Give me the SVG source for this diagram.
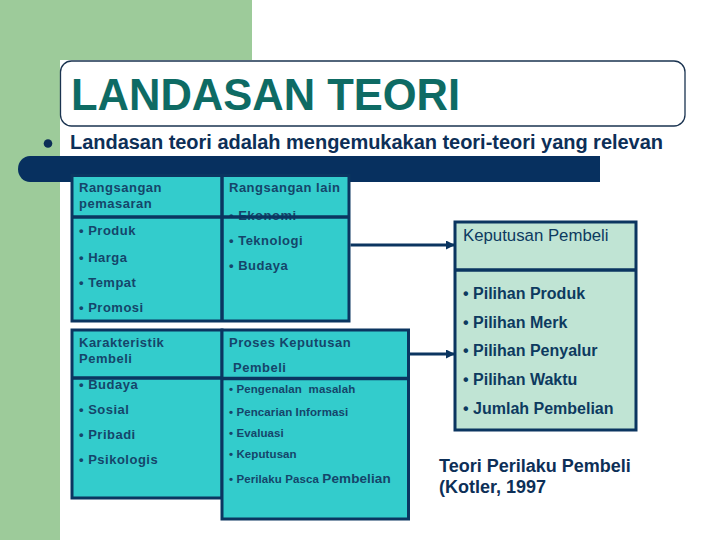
<svg xmlns="http://www.w3.org/2000/svg" width="720" height="540" viewBox="0 0 720 540">
<defs>
<style>
.bg{fill:#9dcb9a}
.box{fill:#33cccc;stroke:#0b3560;stroke-width:3}
.kbox{fill:#c0e4d4;stroke:#0b3560;stroke-width:3}
.div{stroke:#0b3560;stroke-width:3.5;fill:none}
.t{font-family:"Liberation Sans",Arial,sans-serif;font-weight:bold;font-size:13px;letter-spacing:0.5px;fill:#15456a}
.s{font-family:"Liberation Sans",Arial,sans-serif;font-weight:bold;font-size:11.5px;letter-spacing:0.1px;fill:#15456a}
.k{font-family:"Liberation Sans",Arial,sans-serif;font-weight:bold;font-size:16px;fill:#0d3a5f}
.conn{stroke:#0b3560;stroke-width:3;fill:none;marker-end:url(#ah)}
</style>
<marker id="ah" viewBox="0 0 10 10" refX="10" refY="5" markerWidth="3" markerHeight="3" orient="auto" markerUnits="strokeWidth">
<path d="M0,0 L10,5 L0,10 z" fill="#0b3560"/>
</marker>
</defs>
<rect width="720" height="540" fill="#ffffff"/>
<rect class="bg" x="0" y="0" width="252" height="60"/>
<rect class="bg" x="0" y="0" width="60" height="540"/>
<g id="title">
<rect x="60.5" y="61" width="624.5" height="65" rx="11" fill="#ffffff" stroke="#1a3350" stroke-width="1.3"/>
<text x="71" y="110" font-family="Liberation Sans,Arial,sans-serif" font-weight="bold" font-size="43.5" fill="#0e6b64">LANDASAN TEORI</text>
</g>
<g id="subtitle">
<circle cx="48" cy="143.5" r="4.3" fill="#0d2f57"/>
<text x="70" y="148.5" font-family="Liberation Sans,Arial,sans-serif" font-weight="bold" font-size="20" fill="#0d2f57" textLength="593" lengthAdjust="spacing">Landasan teori adalah mengemukakan teori-teori yang relevan</text>
</g>
<path id="bar" d="M30,156 H600 V182 H30 A12,13 0 0 1 18,169 A12,13 0 0 1 30,156 Z" fill="#07305f"/>
<g id="rangsangan">
<rect class="box" x="72" y="175.5" width="277" height="145.5"/>
<text class="t" x="79" y="192">Rangsangan</text>
<text class="t" x="79" y="208">pemasaran</text>
<text class="t" x="79" y="235">• Produk</text>
<text class="t" x="79" y="262">• Harga</text>
<text class="t" x="79" y="287">• Tempat</text>
<text class="t" x="79" y="312">• Promosi</text>
<text class="t" x="229" y="192">Rangsangan lain</text>
<text class="t" x="229" y="220">• Ekonomi</text>
<text class="t" x="229" y="245">• Teknologi</text>
<text class="t" x="229" y="270">• Budaya</text>
<path class="div" d="M72,217 H349 M222,175.5 V321"/>
</g>
<g id="karakteristik">
<rect class="box" x="72" y="330" width="150" height="168"/>
<text class="t" x="79" y="347">Karakteristik</text>
<text class="t" x="79" y="363">Pembeli</text>
<text class="t" x="79" y="389">• Budaya</text>
<text class="t" x="79" y="414">• Sosial</text>
<text class="t" x="79" y="439">• Pribadi</text>
<text class="t" x="79" y="464">• Psikologis</text>
<path class="div" d="M72,378 H222"/>
</g>
<g id="proses">
<rect class="box" x="222" y="330" width="186.5" height="189"/>
<text class="t" x="229" y="347">Proses Keputusan</text>
<text class="t" x="233" y="372">Pembeli</text>
<text class="s" x="229" y="393" xml:space="preserve">• Pengenalan  masalah</text>
<text class="s" x="229" y="416">• Pencarian Informasi</text>
<text class="s" x="229" y="437">• Evaluasi</text>
<text class="s" x="229" y="458">• Keputusan</text>
<text class="s" x="229" y="483">• Perilaku Pasca <tspan font-size="13.5">Pembelian</tspan></text>
<path class="div" d="M222,378.5 H408.5"/>
</g>
<g id="keputusan">
<rect class="kbox" x="455" y="222" width="181" height="208"/>
<path class="div" d="M455,270 H636"/>
<text x="463" y="241" font-family="Liberation Sans,Arial,sans-serif" font-size="16.8" fill="#0d3a5f">Keputusan Pembeli</text>
<text class="k" x="463" y="299">• Pilihan Produk</text>
<text class="k" x="463" y="328">• Pilihan Merk</text>
<text class="k" x="463" y="356">• Pilihan Penyalur</text>
<text class="k" x="463" y="385">• Pilihan Waktu</text>
<text class="k" x="463" y="414">• Jumlah Pembelian</text>
</g>
<g id="connectors">
<line class="conn" x1="350.5" y1="245" x2="455" y2="245"/>
<line class="conn" x1="410" y1="354" x2="455" y2="354"/>
</g>
<g id="caption">
<text x="439" y="471.5" font-family="Liberation Sans,Arial,sans-serif" font-weight="bold" font-size="18" fill="#0d2f57">Teori Perilaku Pembeli</text>
<text x="439" y="493" font-family="Liberation Sans,Arial,sans-serif" font-weight="bold" font-size="18" fill="#0d2f57">(Kotler, 1997</text>
</g>
</svg>
